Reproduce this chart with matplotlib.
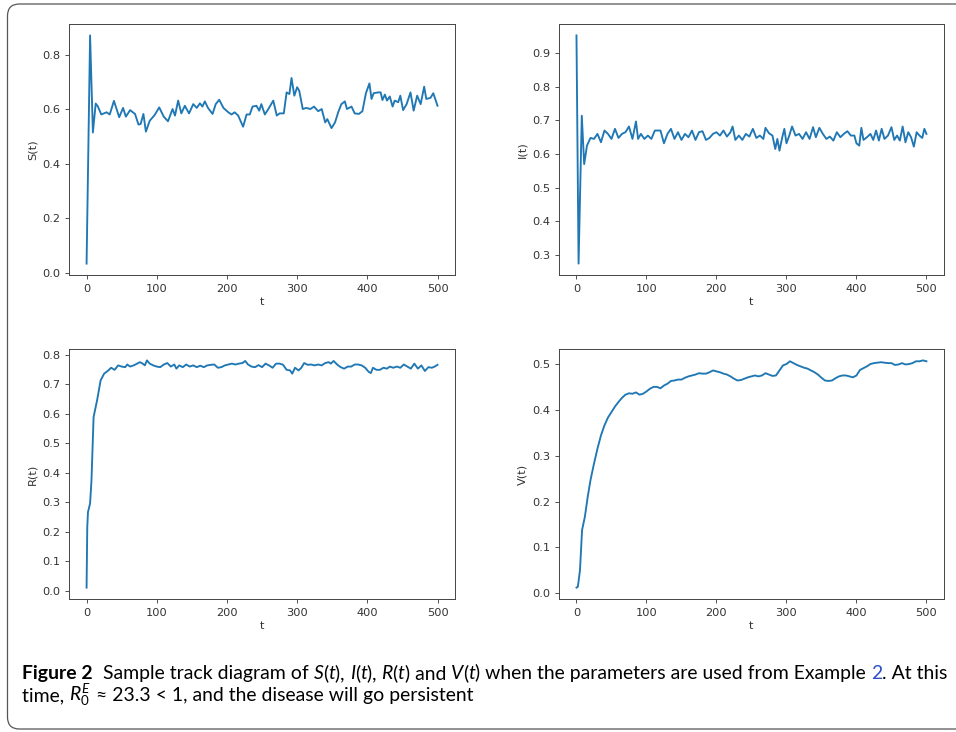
import numpy as np
import matplotlib.pyplot as plt
from matplotlib.patches import FancyBboxPatch
from matplotlib.transforms import IdentityTransform

# values
t_s = [0, 2.5, 5, 9, 13, 16, 21, 28.5, 33, 39, 46.5, 52, 56, 62, 69, 74, 77, 81, 84.5, 90,
       97, 103.5, 110, 116, 122.5, 126, 130.5, 135, 140, 146, 152, 157, 161.5, 165, 168.5,
       173, 179.5, 184, 189, 195, 202, 206.5, 211, 216, 223, 228, 232.5, 236.5, 242, 246,
       249, 254, 259, 266, 271, 275, 281, 285, 289, 292, 296, 300, 303, 308, 313, 319, 324,
       330, 335, 340, 343, 349, 354, 358.5, 363, 368, 371, 377.5, 382, 388, 393, 398, 403,
       406, 409, 415.5, 419, 421.5, 425, 428, 432, 436, 439, 444, 447, 451, 456, 461.5, 466,
       471, 476, 481, 484, 490, 494, 500]
s_vals = [0.033, 0.45, 0.87, 0.514, 0.62, 0.61, 0.58, 0.588, 0.58, 0.63, 0.57, 0.604, 0.572,
          0.596, 0.582, 0.543, 0.545, 0.582, 0.517, 0.557, 0.578, 0.606, 0.572, 0.555, 0.60,
          0.576, 0.631, 0.584, 0.612, 0.584, 0.618, 0.604, 0.621, 0.609, 0.628, 0.604, 0.582,
          0.618, 0.634, 0.604, 0.588, 0.58, 0.588, 0.576, 0.535, 0.58, 0.58, 0.609, 0.612,
          0.594, 0.618, 0.58, 0.60, 0.631, 0.576, 0.584, 0.584, 0.661, 0.655, 0.714, 0.649,
          0.68, 0.667, 0.60, 0.604, 0.60, 0.609, 0.592, 0.60, 0.551, 0.563, 0.53, 0.551, 0.588,
          0.618, 0.628, 0.60, 0.609, 0.584, 0.582, 0.592, 0.658, 0.694, 0.637, 0.658, 0.661,
          0.661, 0.633, 0.653, 0.631, 0.646, 0.609, 0.631, 0.625, 0.649, 0.596, 0.618, 0.661,
          0.594, 0.649, 0.618, 0.682, 0.637, 0.641, 0.658, 0.612]

t_i = [0, 3, 7.6, 11, 15, 20, 25, 30, 35, 40, 45, 50, 55, 60, 65, 70, 75, 80, 85, 88, 92, 97,
       102, 107, 112, 120, 125, 130, 135, 140, 145, 150, 155, 160, 165, 170, 175, 180, 185,
       190, 195, 200, 205, 210, 215, 220, 223, 227, 232, 237, 242, 247, 252, 257, 262, 267,
       270, 275, 280, 284, 287, 290, 294, 297, 300, 304, 308, 313, 318, 323, 328, 333, 338,
       342, 347, 352, 357, 362, 367, 372, 377, 382, 387, 392, 397, 400, 404, 407, 410, 415,
       420, 424, 428, 432, 436, 440, 445, 450, 454, 458, 462, 466, 470, 474, 478, 482, 486,
       490, 494, 497, 500]
i_vals = [0.953, 0.274, 0.714, 0.57, 0.625, 0.648, 0.645, 0.66, 0.635, 0.67, 0.66, 0.645,
          0.675, 0.648, 0.66, 0.665, 0.682, 0.645, 0.697, 0.645, 0.66, 0.645, 0.655, 0.645,
          0.67, 0.67, 0.632, 0.66, 0.675, 0.645, 0.665, 0.642, 0.66, 0.65, 0.67, 0.642, 0.665,
          0.668, 0.642, 0.648, 0.66, 0.665, 0.655, 0.67, 0.652, 0.665, 0.682, 0.642, 0.655,
          0.642, 0.66, 0.652, 0.675, 0.648, 0.655, 0.645, 0.678, 0.662, 0.655, 0.615, 0.645,
          0.61, 0.65, 0.675, 0.632, 0.655, 0.682, 0.655, 0.66, 0.645, 0.665, 0.645, 0.68,
          0.65, 0.678, 0.66, 0.645, 0.652, 0.64, 0.665, 0.65, 0.66, 0.668, 0.655, 0.655,
          0.632, 0.625, 0.678, 0.642, 0.65, 0.66, 0.642, 0.67, 0.64, 0.675, 0.645, 0.655,
          0.68, 0.642, 0.655, 0.64, 0.682, 0.635, 0.665, 0.65, 0.622, 0.665, 0.655, 0.648,
          0.675, 0.66]

t_r = [0, 1, 2, 5, 7, 10, 15, 20, 25, 30, 35, 40, 45, 50, 55, 58, 62, 67, 72, 76, 80, 83, 86,
       90, 95, 100, 105, 110, 115, 120, 125, 128, 132, 137, 142, 147, 152, 157, 162, 167,
       172, 177, 182, 187, 192, 197, 202, 207, 212, 217, 222, 226, 230, 235, 240, 245, 250,
       255, 260, 265, 270, 275, 280, 285, 290, 293, 297, 302, 306, 310, 315, 320, 325, 330,
       335, 340, 345, 348, 352, 357, 362, 367, 372, 377, 382, 387, 392, 397, 402, 405, 408,
       413, 418, 423, 428, 432, 437, 442, 447, 452, 457, 462, 467, 472, 477, 482, 487, 492,
       496, 500]
r_vals = [0.011, 0.217, 0.267, 0.296, 0.375, 0.589, 0.646, 0.713, 0.736, 0.745, 0.756, 0.749,
          0.764, 0.760, 0.758, 0.767, 0.760, 0.764, 0.770, 0.775, 0.770, 0.764, 0.781, 0.770,
          0.764, 0.760, 0.758, 0.767, 0.772, 0.760, 0.767, 0.753, 0.764, 0.758, 0.767, 0.760,
          0.764, 0.758, 0.763, 0.758, 0.764, 0.766, 0.767, 0.756, 0.758, 0.764, 0.767, 0.770,
          0.767, 0.770, 0.772, 0.779, 0.767, 0.760, 0.758, 0.765, 0.758, 0.770, 0.764, 0.756,
          0.770, 0.770, 0.766, 0.749, 0.747, 0.736, 0.756, 0.747, 0.756, 0.772, 0.766, 0.767,
          0.764, 0.767, 0.764, 0.772, 0.775, 0.770, 0.779, 0.767, 0.758, 0.753, 0.760, 0.760,
          0.767, 0.767, 0.764, 0.756, 0.742, 0.738, 0.756, 0.749, 0.749, 0.756, 0.753, 0.760,
          0.756, 0.760, 0.756, 0.767, 0.760, 0.753, 0.770, 0.753, 0.764, 0.745, 0.758, 0.756,
          0.760, 0.766]

t_v = [0, 2, 5, 8, 12, 16, 20, 25, 30, 35, 40, 45, 50, 55, 60, 65, 70, 75, 80, 85, 90, 95,
       100, 105, 110, 115, 120, 125, 130, 135, 140, 145, 150, 155, 160, 165, 170, 175, 180,
       185, 190, 195, 200, 205, 210, 215, 220, 225, 230, 235, 240, 245, 250, 255, 260, 265,
       270, 275, 280, 285, 290, 295, 300, 305, 310, 315, 320, 325, 330, 335, 340, 345, 350,
       355, 360, 365, 370, 375, 380, 385, 390, 395, 400, 405, 410, 415, 420, 425, 430, 435,
       440, 445, 450, 455, 460, 465, 470, 475, 480, 485, 490, 495, 500]
v_vals = [0.012, 0.014, 0.05, 0.138, 0.167, 0.21, 0.247, 0.283, 0.316, 0.345, 0.367, 0.384,
          0.396, 0.408, 0.418, 0.427, 0.434, 0.437, 0.436, 0.439, 0.434, 0.436, 0.441, 0.447,
          0.451, 0.451, 0.448, 0.454, 0.458, 0.464, 0.465, 0.467, 0.467, 0.471, 0.474, 0.476,
          0.478, 0.481, 0.480, 0.480, 0.483, 0.487, 0.485, 0.483, 0.480, 0.478, 0.474, 0.469,
          0.465, 0.466, 0.469, 0.472, 0.474, 0.476, 0.474, 0.476, 0.481, 0.478, 0.475, 0.476,
          0.487, 0.498, 0.501, 0.507, 0.503, 0.499, 0.496, 0.493, 0.491, 0.487, 0.483, 0.478,
          0.471, 0.465, 0.464, 0.465, 0.470, 0.474, 0.476, 0.476, 0.474, 0.472, 0.476, 0.488,
          0.492, 0.496, 0.501, 0.503, 0.504, 0.505, 0.504, 0.503, 0.503, 0.499, 0.500, 0.503,
          0.500, 0.501, 0.503, 0.507, 0.507, 0.509, 0.507]

x_ticks = [0, 100, 200, 300, 400, 500]
s_ticks = [0.0, 0.2, 0.4, 0.6, 0.8]
i_ticks = [0.3, 0.4, 0.5, 0.6, 0.7, 0.8, 0.9]
r_ticks = [0.0, 0.1, 0.2, 0.3, 0.4, 0.5, 0.6, 0.7, 0.8]
v_ticks = [0.0, 0.1, 0.2, 0.3, 0.4, 0.5]

panels = [
    (t_s, s_vals, s_ticks, "S(t)", [0.0722, 0.6243, 0.4038, 0.3429]),
    (t_i, i_vals, i_ticks, "I(t)", [0.5847, 0.6243, 0.4027, 0.3429]),
    (t_r, r_vals, r_ticks, "R(t)", [0.0722, 0.1817, 0.4038, 0.3415]),
    (t_v, v_vals, v_ticks, "V(t)", [0.5847, 0.1817, 0.4027, 0.3415]),
]

fig = plt.figure(figsize=(9.56, 7.32), dpi=100)
txt_col = "#333333"
tick_font = "DejaVu Sans"

for t, vals, yt, lab, pos in panels:
    ax = fig.add_axes(pos)
    ax.plot(t, vals, color="#1f77b4", lw=1.35)
    ax.set_xticks(x_ticks)
    ax.set_xticklabels([str(v) for v in x_ticks], family=tick_font)
    ax.set_yticks(yt)
    ax.set_yticklabels([f"{v:.1f}" for v in yt], family=tick_font)
    ax.tick_params(labelsize=8.2, colors=txt_col, length=2.9, width=0.6)
    for sp in ax.spines.values():
        sp.set_color("#444444")
        sp.set_linewidth(0.7)
    ax.set_xlabel("t", fontsize=8.2, color=txt_col, labelpad=2, family=tick_font)
    ax.set_ylabel(lab, fontsize=8.2, color=txt_col, labelpad=3, family=tick_font)

# outer rounded frame
frame = FancyBboxPatch((7.5, 3), 980, 725, boxstyle="round,pad=0,rounding_size=12",
                       transform=IdentityTransform(), fill=False, ec="#555555", lw=0.9)
fig.patches.append(frame)

# caption
cap_font = "Lato"
plt.rcParams["mathtext.fontset"] = "custom"
plt.rcParams["mathtext.rm"] = cap_font
plt.rcParams["mathtext.it"] = cap_font + ":italic"

blue = "#2b50c8"
line1 = [("Figure 2", "bold", "normal", "black"), ("  Sample track diagram of ", "normal", "normal", "black"),
         ("S", "normal", "italic", "black"), ("(", "normal", "normal", "black"),
         ("t", "normal", "italic", "black"), ("), ", "normal", "normal", "black"),
         ("I", "normal", "italic", "black"), ("(", "normal", "normal", "black"),
         ("t", "normal", "italic", "black"), ("), ", "normal", "normal", "black"),
         ("R", "normal", "italic", "black"), ("(", "normal", "normal", "black"),
         ("t", "normal", "italic", "black"), (") and ", "normal", "normal", "black"),
         ("V", "normal", "italic", "black"), ("(", "normal", "normal", "black"),
         ("t", "normal", "italic", "black"),
         (") when the parameters are used from Example ", "normal", "normal", "black"),
         ("2", "normal", "normal", blue), (". At this", "normal", "normal", "black")]
line2 = [("time, ", "normal", "normal", "black"), (r"$R_0^E$", "normal", "normal", "black"),
         (" \u2248 23.3 < 1, and the disease will go persistent", "normal", "normal", "black")]

renderer = fig.canvas.get_renderer()


def draw_line(pieces, x0, y, size):
    x = x0
    arts = []
    for s, w, st, c in pieces:
        tx = fig.text(x, y, s, fontsize=size, fontweight=w, fontstyle=st, color=c,
                      family=[cap_font, "DejaVu Sans"], va="baseline", ha="left")
        bb = tx.get_window_extent(renderer)
        x += bb.width / fig.bbox.width
        arts.append(tx)
    return arts, x


size = 12.5
arts, xend = draw_line(line1, 22 / 956, 0.0724, size)
target = 948 / 956
scale = (target - 22 / 956) / (xend - 22 / 956)
for a in arts:
    a.remove()
size = size * scale
draw_line(line1, 22 / 956, 0.0724, size)
draw_line(line2, 22 / 956, 0.0424, size)

fig.savefig("out.png", dpi=100)
